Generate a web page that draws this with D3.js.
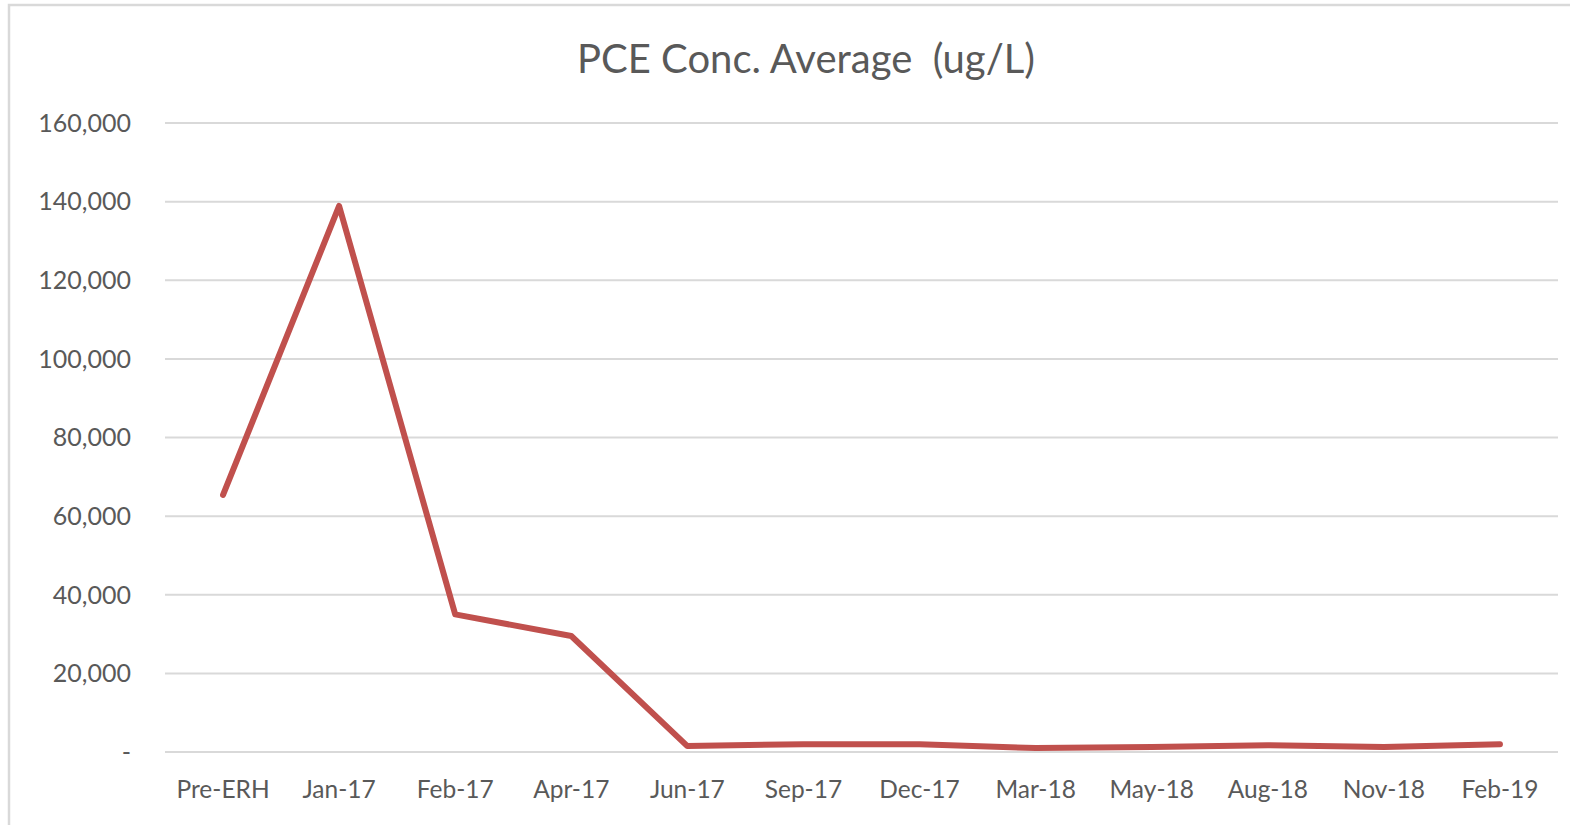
<!DOCTYPE html>
<html>
<head>
<meta charset="utf-8">
<script src="https://cdn.jsdelivr.net/npm/d3@7"></script>
<style>
  body { margin: 0; background: #fff; }
  text { font-family: Lato, "Open Sans", sans-serif; fill: #595959; }
</style>
</head>
<body>
<svg id="chart" width="1570" height="825"></svg>
<script>
// Data
const categories = ["Pre-ERH", "Jan-17", "Feb-17", "Apr-17", "Jun-17", "Sep-17",
                    "Dec-17", "Mar-18", "May-18", "Aug-18", "Nov-18", "Feb-19"];
const pceValues = [65400, 138900, 35000, 29500, 1500, 2000,
                   2000, 1000, 1300, 1700, 1300, 2000];
const yTicks = [0, 20000, 40000, 60000, 80000, 100000, 120000, 140000, 160000];

const svg = d3.select("#chart");

// Plot area
const plot = { left: 165, right: 1558, top: 123, bottom: 752 };

// Chart border (cropped on right/bottom in the reference)
svg.append("rect")
    .attr("x", 9).attr("y", 5)
    .attr("width", 1600).attr("height", 900)
    .attr("fill", "none")
    .attr("stroke", "#d9d9d9")
    .attr("stroke-width", 2.5);

const x = d3.scaleBand()
    .domain(categories)
    .range([plot.left, plot.right]);

const y = d3.scaleLinear()
    .domain([0, 160000])
    .range([plot.bottom, plot.top]);

// Gridlines
svg.append("g")
    .selectAll("line")
    .data(yTicks)
    .join("line")
    .attr("x1", plot.left).attr("x2", plot.right)
    .attr("y1", d => y(d)).attr("y2", d => y(d))
    .attr("stroke", "#d9d9d9")
    .attr("stroke-width", 2);

// Y axis labels
const fmt = d3.format(",");
svg.append("g")
    .selectAll("text")
    .data(yTicks)
    .join("text")
    .attr("x", 131)
    .attr("y", d => y(d))
    .attr("dy", "0.35em")
    .attr("text-anchor", "end")
    .style("font-size", "25px")
    .text(d => d === 0 ? "-" : fmt(d));

// X axis labels
svg.append("g")
    .selectAll("text")
    .data(categories)
    .join("text")
    .attr("x", d => x(d) + x.bandwidth() / 2)
    .attr("y", 798)
    .attr("text-anchor", "middle")
    .style("font-size", "24.5px")
    .text(d => d);

// Line
const line = d3.line()
    .x((d, i) => x(categories[i]) + x.bandwidth() / 2)
    .y(d => y(d));

svg.append("path")
    .datum(pceValues)
    .attr("d", line)
    .attr("fill", "none")
    .attr("stroke", "#c0504d")
    .attr("stroke-width", 6)
    .attr("stroke-linejoin", "round")
    .attr("stroke-linecap", "round");

// Title
svg.append("text")
    .attr("x", 806)
    .attr("y", 73)
    .attr("text-anchor", "middle")
    .style("font-size", "40px")
    .style("white-space", "pre")
    .text("PCE Conc. Average  (ug/L)");
</script>
</body>
</html>
